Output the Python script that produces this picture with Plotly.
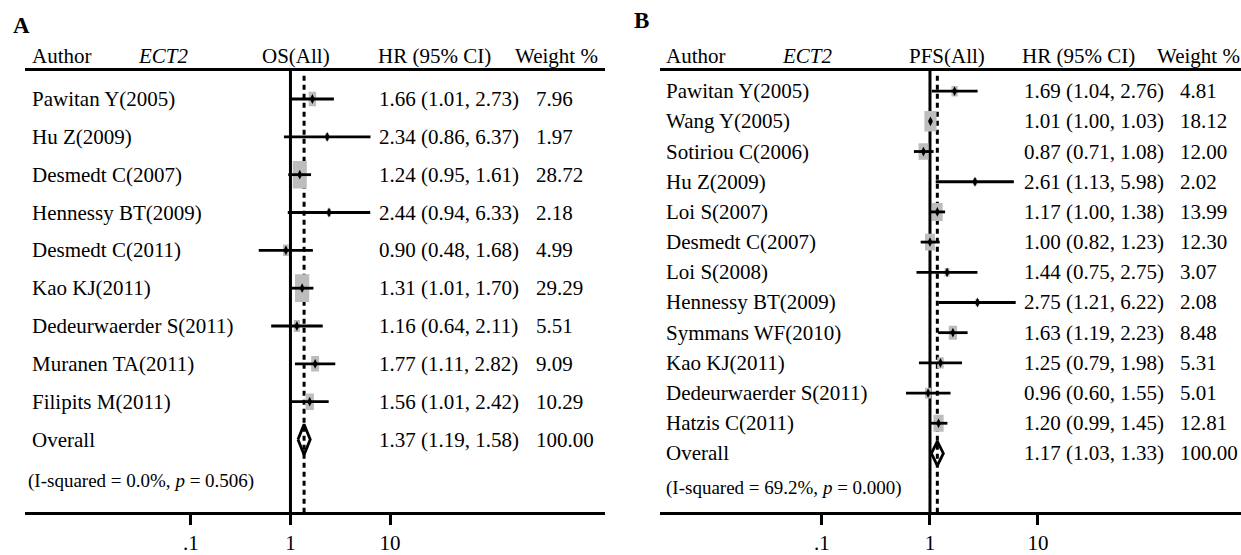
import plotly.graph_objects as go

W, H = 1241, 555
FONT = "Liberation Serif, Times New Roman, serif"

# ---------------- Panel A data (OS) ----------------
a_studies = ["Pawitan Y(2005)", "Hu Z(2009)", "Desmedt C(2007)", "Hennessy BT(2009)",
             "Desmedt C(2011)", "Kao KJ(2011)", "Dedeurwaerder S(2011)",
             "Muranen TA(2011)", "Filipits M(2011)"]
a_hr = [1.66, 2.34, 1.24, 2.44, 0.90, 1.31, 1.16, 1.77, 1.56]
a_lo = [1.01, 0.86, 0.95, 0.94, 0.48, 1.01, 0.64, 1.11, 1.01]
a_hi = [2.73, 6.37, 1.61, 6.33, 1.68, 1.70, 2.11, 2.82, 2.42]
a_wt = [7.96, 1.97, 28.72, 2.18, 4.99, 29.29, 5.51, 9.09, 10.29]
a_overall = [1.37, 1.19, 1.58]
a_het = "(I-squared = 0.0%, <i>p</i> = 0.506)"
a_title = "OS(All)"

# ---------------- Panel B data (PFS) ----------------
b_studies = ["Pawitan Y(2005)", "Wang Y(2005)", "Sotiriou C(2006)", "Hu Z(2009)",
             "Loi S(2007)", "Desmedt C(2007)", "Loi S(2008)", "Hennessy BT(2009)",
             "Symmans WF(2010)", "Kao KJ(2011)", "Dedeurwaerder S(2011)", "Hatzis C(2011)"]
b_hr = [1.69, 1.01, 0.87, 2.61, 1.17, 1.00, 1.44, 2.75, 1.63, 1.25, 0.96, 1.20]
b_lo = [1.04, 1.00, 0.71, 1.13, 1.00, 0.82, 0.75, 1.21, 1.19, 0.79, 0.60, 0.99]
b_hi = [2.76, 1.03, 1.08, 5.98, 1.38, 1.23, 2.75, 6.22, 2.23, 1.98, 1.55, 1.45]
b_wt = [4.81, 18.12, 12.00, 2.02, 13.99, 12.30, 3.07, 2.08, 8.48, 5.31, 5.01, 12.81]
b_overall = [1.17, 1.03, 1.33]
b_het = "(I-squared = 69.2%, <i>p</i> = 0.000)"
b_title = "PFS(All)"

tick_vals = [0.1, 1, 10]
tick_text = [".1", "1", "10"]

# ---------------- layout settings (pixels) ----------------
panels = [
    dict(letter="A", studies=a_studies, hr=a_hr, lo=a_lo, hi=a_hi, wt=a_wt,
         overall=a_overall, het=a_het, title=a_title,
         ax_px=(25, 605), xrange=(-2.667, 3.16), y0=101, dy=38.6,
         letter_xy=(11, 26), col_label=30, col_hr=377, col_wt=534,
         hdr=dict(author=30, ect2=136, title=260, hrh=376, wth=513),
         het_xy=(26, 491), box_k=5.25, box_ratio=0.5, xa="x", ya="y"),
    dict(letter="B", studies=b_studies, hr=b_hr, lo=b_lo, hi=b_hi, wt=b_wt,
         overall=b_overall, het=b_het, title=b_title,
         ax_px=(660, 1241), xrange=(-2.5, 2.88), y0=93, dy=30.8,
         letter_xy=(632, 21), col_label=664, col_hr=1022, col_wt=1178,
         hdr=dict(author=664, ect2=780, title=907, hrh=1020, wth=1155),
         het_xy=(664, 498), box_k=4.9, box_ratio=0.58, xa="x2", ya="y2"),
]

HDR_Y = 57
HDR_LINE_Y = 71
AXIS_Y = 523


def px_x(p):
    return p / W


def px_y(p):
    return 1 - p / H


fig = go.Figure()
shapes = []
annotations = []
layout_axes = {}

for k, P in enumerate(panels):
    xa, ya = P["xa"], P["ya"]
    n = len(P["studies"])
    rows = list(range(n))
    ov_row = n
    est, lo, hi = P["overall"]

    # axis scale: pixels per decade (log axis)
    px_per_dec = (P["ax_px"][1] - P["ax_px"][0]) / (P["xrange"][1] - P["xrange"][0])

    # weight boxes (area proportional to weight), drawn first so lines sit on top
    bx, by = [], []
    for i in rows:
        h = P["box_k"] * (P["wt"][i] ** 0.5)
        w = P["box_ratio"] * h
        f = 10 ** ((w / 2) / px_per_dec)
        hy = (h / 2) / P["dy"]
        x0, x1 = P["hr"][i] / f, P["hr"][i] * f
        bx += [x0, x1, x1, x0, x0, None]
        by += [i - hy, i - hy, i + hy, i + hy, i - hy, None]
    fig.add_trace(go.Scatter(x=bx, y=by, mode="lines", xaxis=xa, yaxis=ya,
                             fill="toself", fillcolor="#bdbdbd",
                             line=dict(width=0, color="#bdbdbd"),
                             showlegend=False, hoverinfo="skip"))

    # CI lines
    xs, ys = [], []
    for i in rows:
        xs += [P["lo"][i], P["hi"][i], None]
        ys += [i, i, None]
    fig.add_trace(go.Scatter(x=xs, y=ys, mode="lines", xaxis=xa, yaxis=ya,
                             line=dict(color="black", width=2.8),
                             showlegend=False, hoverinfo="skip"))
    # point estimates
    fig.add_trace(go.Scatter(x=P["hr"], y=rows, mode="markers", xaxis=xa, yaxis=ya,
                             marker=dict(symbol="diamond-tall", size=7, color="black"),
                             showlegend=False, hoverinfo="skip"))
    # overall diamond
    dh = 0.4
    fig.add_trace(go.Scatter(x=[lo, est, hi, est, lo],
                             y=[ov_row, ov_row - dh, ov_row, ov_row + dh, ov_row],
                             mode="lines", xaxis=xa, yaxis=ya,
                             line=dict(color="black", width=2.8),
                             showlegend=False, hoverinfo="skip"))

    # vertical reference lines (null and overall)
    shapes.append(dict(type="line", xref=xa, yref="paper", x0=1, x1=1,
                       y0=px_y(AXIS_Y), y1=px_y(HDR_LINE_Y), layer="below",
                       line=dict(color="black", width=3)))
    shapes.append(dict(type="line", xref=xa, yref="paper", x0=est, x1=est,
                       y0=px_y(AXIS_Y), y1=px_y(HDR_LINE_Y + 3), layer="below",
                       line=dict(color="black", width=3, dash="5px,4px")))
    # header line
    shapes.append(dict(type="line", xref="paper", yref="paper",
                       x0=px_x(P["ax_px"][0]), x1=px_x(P["ax_px"][1]),
                       y0=px_y(HDR_LINE_Y), y1=px_y(HDR_LINE_Y),
                       line=dict(color="black", width=3)))

    # axes
    idx = "" if k == 0 else "2"
    layout_axes["xaxis" + idx] = dict(
        type="log", range=list(P["xrange"]),
        domain=[px_x(P["ax_px"][0]), px_x(P["ax_px"][1])],
        anchor="free", position=px_y(AXIS_Y),
        showline=True, linecolor="black", linewidth=3,
        ticks="outside", ticklen=10, tickwidth=3, tickcolor="black",
        tickvals=tick_vals, ticktext=tick_text,
        tickfont=dict(family=FONT, size=21, color="black"),
        showgrid=False, zeroline=False, fixedrange=True)
    layout_axes["yaxis" + idx] = dict(
        domain=[0, 1], anchor=xa,
        range=[(H - P["y0"]) / P["dy"], (0 - P["y0"]) / P["dy"]],
        visible=False, showgrid=False, zeroline=False, fixedrange=True)

    # text
    def txt(x, y, s, yref="paper", size=21, **kw):
        d = dict(x=x, y=y, xref="paper", yref=yref, text=s, showarrow=False,
                 xanchor="left", yanchor="middle",
                 font=dict(family=FONT, size=size, color="black"))
        d.update(kw)
        annotations.append(d)

    lx, ly = P["letter_xy"]
    txt(px_x(lx), px_y(ly), "<b>%s</b>" % P["letter"], size=23)
    hd = P["hdr"]
    txt(px_x(hd["author"]), px_y(HDR_Y), "Author")
    txt(px_x(hd["ect2"]), px_y(HDR_Y), "<i>ECT2</i>")
    txt(px_x(hd["title"]), px_y(HDR_Y), P["title"])
    txt(px_x(hd["hrh"]), px_y(HDR_Y), "HR (95% CI)")
    txt(px_x(hd["wth"]), px_y(HDR_Y), "Weight %")
    for i in rows:
        txt(px_x(P["col_label"]), i, P["studies"][i], yref=ya)
        txt(px_x(P["col_hr"]), i, "%.2f (%.2f, %.2f)" % (P["hr"][i], P["lo"][i], P["hi"][i]), yref=ya)
        txt(px_x(P["col_wt"]), i, "%.2f" % P["wt"][i], yref=ya)
    txt(px_x(P["col_label"]), ov_row, "Overall", yref=ya)
    txt(px_x(P["col_hr"]), ov_row, "%.2f (%.2f, %.2f)" % (est, lo, hi), yref=ya)
    txt(px_x(P["col_wt"]), ov_row, "100.00", yref=ya)
    hx, hy = P["het_xy"]
    txt(px_x(hx), px_y(hy), P["het"], size=19)

fig.update_layout(
    width=W, height=H, margin=dict(l=0, r=0, t=0, b=0),
    paper_bgcolor="white", plot_bgcolor="white",
    shapes=shapes, annotations=annotations, showlegend=False,
    **layout_axes)

fig.write_html("out.html", config={"displayModeBar": False})
